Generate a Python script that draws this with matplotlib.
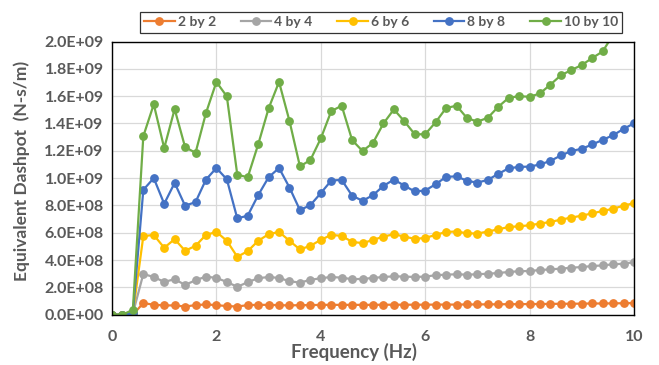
import matplotlib
matplotlib.use("Agg")
import matplotlib.pyplot as plt
from matplotlib.ticker import FuncFormatter, MultipleLocator

# frequency (Hz)
freq = [0.0, 0.2, 0.4, 0.6, 0.8, 1.0, 1.2, 1.4, 1.6, 1.8,
        2.0, 2.2, 2.4, 2.6, 2.8, 3.0, 3.2, 3.4, 3.6, 3.8,
        4.0, 4.2, 4.4, 4.6, 4.8, 5.0, 5.2, 5.4, 5.6, 5.8,
        6.0, 6.2, 6.4, 6.6, 6.8, 7.0, 7.2, 7.4, 7.6, 7.8,
        8.0, 8.2, 8.4, 8.6, 8.8, 9.0, 9.2, 9.4, 9.6, 9.8, 10.0]

# equivalent dashpot, in units of 1e8 N-s/m
dash_2x2 = [0, 0, 0.0, 0.85, 0.73, 0.68, 0.68, 0.60, 0.70, 0.75,
            0.70, 0.63, 0.60, 0.70, 0.72, 0.72, 0.70, 0.68, 0.70, 0.70,
            0.72, 0.72, 0.72, 0.72, 0.72, 0.72, 0.73, 0.73, 0.73, 0.73,
            0.73, 0.74, 0.74, 0.74, 0.75, 0.75, 0.76, 0.76, 0.77, 0.77,
            0.78, 0.78, 0.79, 0.80, 0.80, 0.81, 0.82, 0.82, 0.83, 0.84, 0.85]
dash_4x4 = [0, 0, 0.1, 2.98, 2.76, 2.40, 2.60, 2.18, 2.52, 2.79,
            2.69, 2.40, 2.04, 2.38, 2.67, 2.76, 2.69, 2.45, 2.35, 2.55,
            2.67, 2.76, 2.71, 2.60, 2.62, 2.69, 2.76, 2.81, 2.79, 2.76,
            2.79, 2.89, 2.93, 2.96, 2.93, 2.96, 3.00, 3.05, 3.13, 3.18,
            3.20, 3.27, 3.32, 3.37, 3.44, 3.49, 3.56, 3.61, 3.69, 3.73, 3.85]
dash_6x6 = [0, 0, 0.1, 5.75, 5.84, 4.90, 5.53, 4.68, 5.04, 5.84,
            6.06, 5.41, 4.24, 4.65, 5.41, 5.89, 6.06, 5.41, 4.78, 5.04,
            5.48, 5.84, 5.77, 5.33, 5.24, 5.47, 5.72, 5.89, 5.72, 5.55,
            5.62, 5.84, 6.06, 6.09, 5.96, 5.94, 6.09, 6.25, 6.42, 6.47,
            6.55, 6.67, 6.79, 6.96, 7.11, 7.25, 7.42, 7.59, 7.76, 7.98, 8.17]
dash_8x8 = [0, 0, 0.1, 9.14, 10.00, 8.12, 9.65, 7.98, 8.24, 9.89,
            10.74, 9.91, 7.05, 7.25, 8.75, 10.06, 10.74, 9.31, 7.66, 8.02,
            8.90, 9.82, 9.87, 8.71, 8.34, 8.75, 9.43, 9.89, 9.45, 9.02,
            9.09, 9.55, 10.09, 10.13, 9.80, 9.67, 9.87, 10.31, 10.72, 10.82,
            10.84, 11.00, 11.26, 11.66, 11.98, 12.15, 12.46, 12.80, 13.14, 13.60, 14.01]
dash_10x10 = [0, 0, 0.36, 13.07, 15.40, 12.20, 15.05, 12.27, 11.85, 14.76,
              17.04, 15.98, 10.25, 10.06, 12.46, 15.10, 17.04, 14.18, 10.86, 11.32,
              12.90, 14.90, 15.30, 12.78, 11.98, 12.58, 14.00, 15.03, 14.16, 13.21,
              13.21, 14.09, 15.13, 15.30, 14.40, 14.13, 14.42, 15.22, 15.88, 16.00,
              15.95, 16.20, 16.85, 17.53, 17.91, 18.28, 18.79, 19.27, 20.50, 21.30, 22.10]

labels = ["2 by 2", "4 by 4", "6 by 6", "8 by 8", "10 by 10"]
series = [dash_2x2, dash_4x4, dash_6x6, dash_8x8, dash_10x10]
colors = ["#ED7D31", "#A5A5A5", "#FFC000", "#4472C4", "#70AD47"]

TXT = "#595959"
plt.rcParams["font.family"] = ["Lato", "DejaVu Sans"]
plt.rcParams["font.weight"] = "bold"

fig = plt.figure(figsize=(6.59, 3.65), dpi=100)
ax = fig.add_axes([112 / 659, 1 - 314.7 / 365, 522 / 659, 273.2 / 365])

for vals, lab, col in zip(series, labels, colors):
    ax.plot(freq, [v * 1e8 for v in vals], color=col, lw=1.6, marker="o",
            markersize=5.3, label=lab)

ax.set_xlim(0, 10)
ax.set_ylim(0, 2.0e9)
ax.xaxis.set_major_locator(MultipleLocator(2))
ax.yaxis.set_major_locator(MultipleLocator(2.0e8))
ax.yaxis.set_major_formatter(FuncFormatter(lambda v, p: f"{v:.1E}"))
ax.grid(True, color="#D9D9D9", lw=0.9)
ax.set_axisbelow(True)
for s in ax.spines.values():
    s.set_color("black")
    s.set_linewidth(1.0)
ax.tick_params(length=0, labelsize=11.5, labelcolor=TXT)
ax.tick_params(axis="x", pad=11)
ax.tick_params(axis="y", pad=6)

ax.set_xlabel("Frequency (Hz)", fontsize=13.5, color=TXT, fontweight="bold")
ax.set_ylabel("Equivalent Dashpot  (N-s/m)", fontsize=12.5, color=TXT, fontweight="bold")
ax.xaxis.set_label_coords(0.4636, -0.102)
ax.yaxis.set_label_coords(-0.158, 0.525)

leg = fig.legend(loc="lower left", ncol=5, mode="expand",
                 bbox_to_anchor=(140 / 659, 1 - 32.5 / 365, 482 / 659, 21.5 / 365),
                 frameon=True, fancybox=False, edgecolor="black", fontsize=10,
                 handlelength=2.2, handletextpad=0.2, borderaxespad=0, borderpad=0.3)
leg.get_frame().set_linewidth(0.9)
for t in leg.get_texts():
    t.set_color(TXT)

fig.savefig("out.png", dpi=100)
